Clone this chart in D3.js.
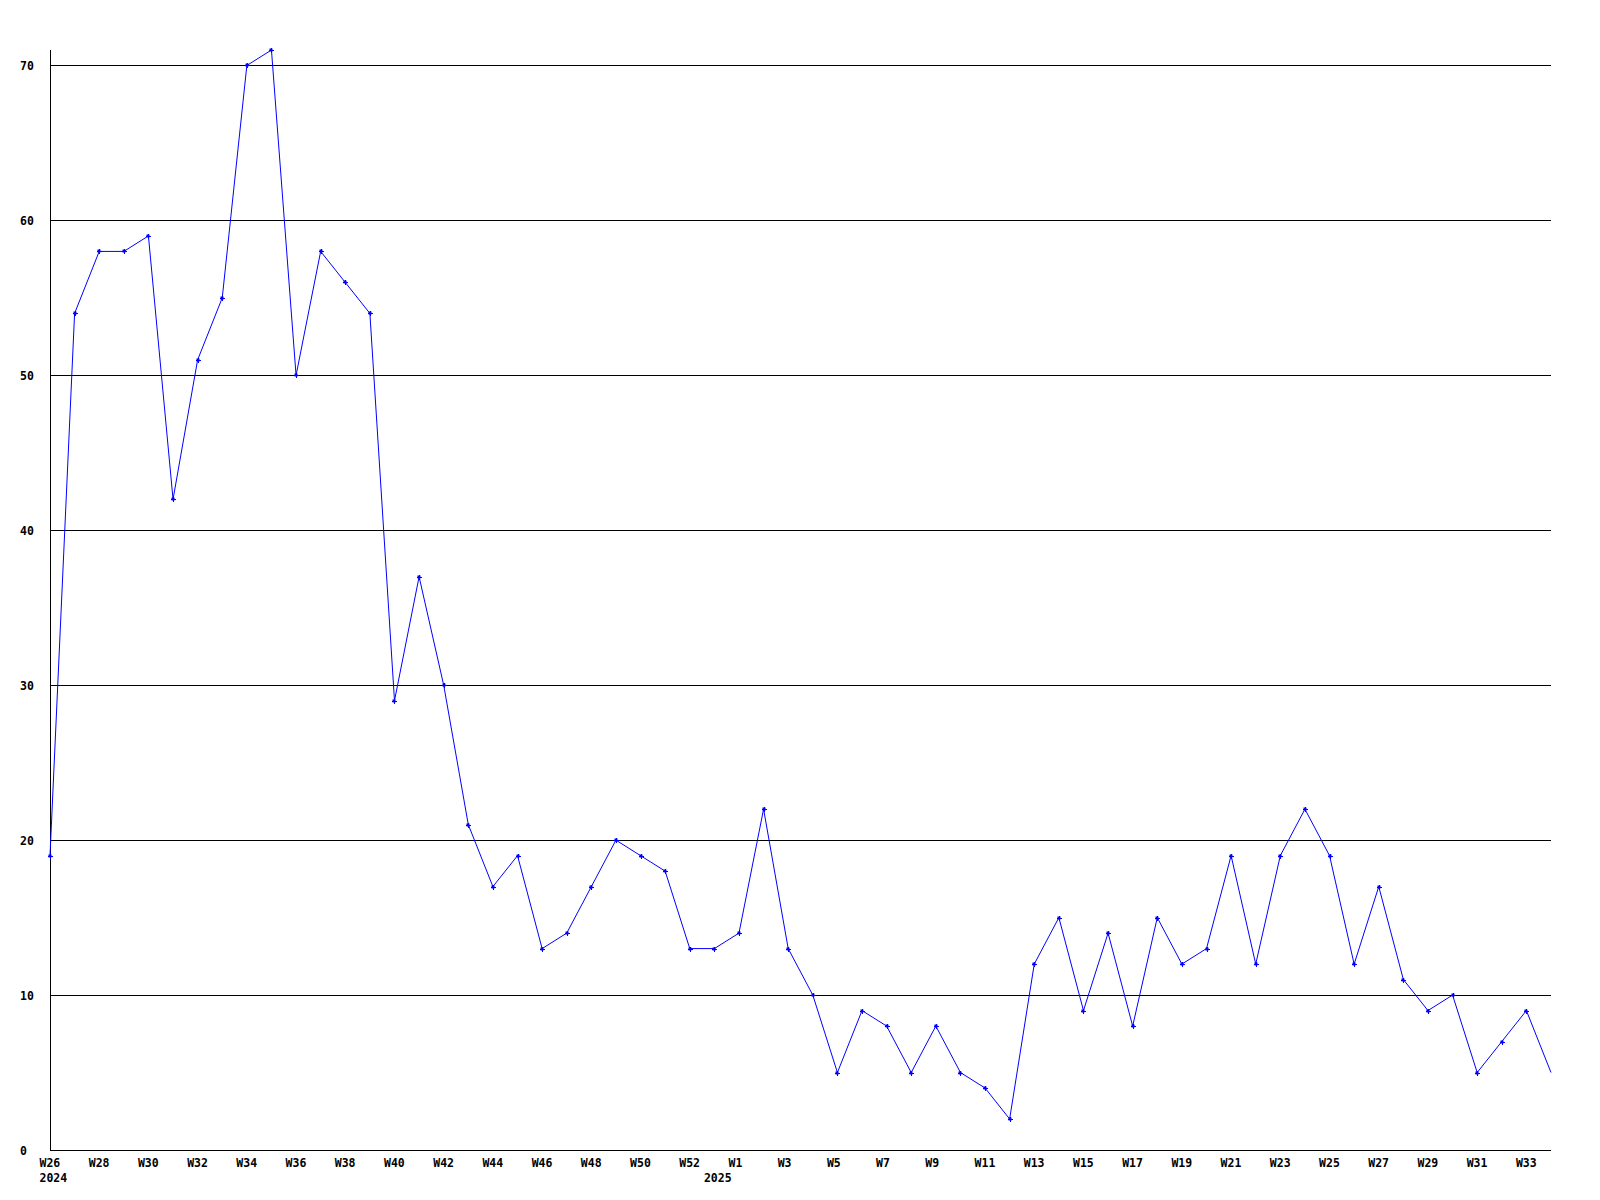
<!DOCTYPE html>
<html><head><meta charset="utf-8">
<script src="https://cdn.jsdelivr.net/npm/d3@7"></script>
<style>
html,body{margin:0;padding:0;background:#fff;}
svg text{font-family:"DejaVu Sans Mono","Liberation Mono",monospace;font-weight:bold;font-size:11.5px;fill:#000;}
</style></head>
<body>
<svg id="chart" width="1600" height="1200"></svg>
<script>
const weekLabels = ["W26","W27","W28","W29","W30","W31","W32","W33","W34","W35","W36","W37","W38","W39","W40","W41","W42","W43","W44","W45","W46","W47","W48","W49","W50","W51","W52","W53",
"W1","W2","W3","W4","W5","W6","W7","W8","W9","W10","W11","W12","W13","W14","W15","W16","W17","W18","W19","W20","W21","W22","W23","W24","W25","W26","W27","W28","W29","W30","W31","W32","W33","W34"];
const values = [19,54,58,58,59,42,51,55,70,71,50,58,56,54,29,37,30,21,17,19,13,14,17,20,19,18,13,13,
14,22,13,10,5,9,8,5,8,5,4,2,12,15,9,14,8,15,12,13,19,12,19,22,19,12,17,11,9,10,5,7,9,5];
const yTicks = [0,10,20,30,40,50,60,70];
const yearLabels = [{index:0,label:"2024"},{index:27,label:"2025"}];

const svg = d3.select("#chart");
const x0 = 50, x1 = 1551, yTop = 50, yBot = 1150;
const x = d3.scaleLinear().domain([0, values.length-1]).range([x0, x1]);
const y = d3.scaleLinear().domain([0, d3.max(values)]).range([yBot, yTop]);

// gridlines
svg.append("g").selectAll("line").data(yTicks.filter(t=>t>0)).join("line")
  .attr("x1", x0).attr("x2", x1)
  .attr("y1", d=>Math.round(y(d))+0.5).attr("y2", d=>Math.round(y(d))+0.5)
  .attr("stroke","#000").attr("stroke-width",1).attr("shape-rendering","crispEdges");

// y labels
svg.append("g").selectAll("text").data(yTicks).join("text")
  .attr("x", 20).attr("y", d=>Math.round(y(d))+4.5).text(d=>d);

// axes lines
svg.append("line").attr("x1",x0+0.5).attr("x2",x0+0.5).attr("y1",yTop).attr("y2",yBot+0.5)
  .attr("stroke","#000").attr("shape-rendering","crispEdges");
svg.append("line").attr("x1",x0).attr("x2",x1).attr("y1",yBot+0.5).attr("y2",yBot+0.5)
  .attr("stroke","#000").attr("shape-rendering","crispEdges");

// x labels every other week
svg.append("g").selectAll("text").data(weekLabels.map((l,i)=>({l,i})).filter(d=>d.i%2===0)).join("text")
  .attr("x", d=>x(d.i)-10.5).attr("y", 1166.5).text(d=>d.l);
svg.append("g").selectAll("text").data(yearLabels).join("text")
  .attr("x", d=>x(d.index)-10.5).attr("y", 1182).text(d=>d.label);

// line
const line = d3.line().x((d,i)=>x(i)).y(d=>y(d));
svg.append("path").datum(values).attr("d", line).attr("fill","none")
  .attr("stroke","#0000ff").attr("stroke-width",1);

// markers
const mk = svg.append("g").selectAll("g").data(values.slice(0, values.length-1)).join("g")
  .attr("transform",(d,i)=>`translate(${Math.round(x(i))},${Math.round(y(d))})`);
mk.append("rect").attr("x",-1.5).attr("y",-1.5).attr("width",3).attr("height",3).attr("fill","#0000ff");
mk.append("path").attr("d","M-2.5,0.5H2.5M0.5,-2.5V2.5").attr("stroke","#0000ff").attr("stroke-width",1).attr("shape-rendering","crispEdges");
</script>
</body></html>
